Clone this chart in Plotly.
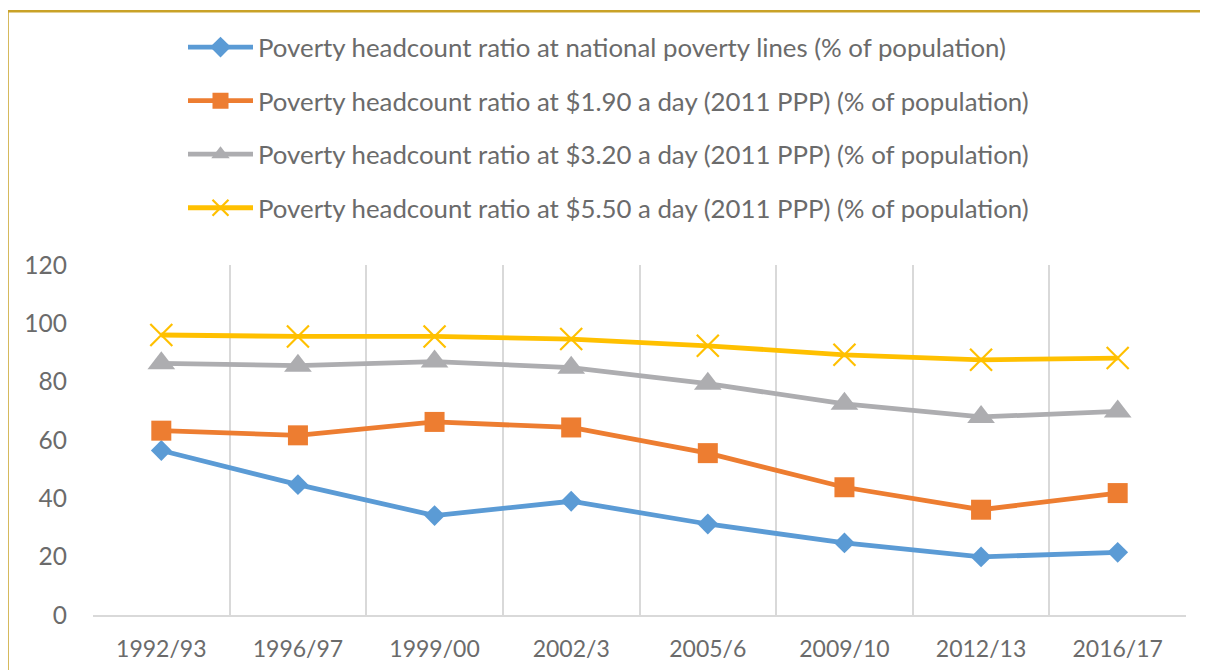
import plotly.graph_objects as go

years = ["1992/93", "1996/97", "1999/00", "2002/3", "2005/6", "2009/10", "2012/13", "2016/17"]

national = [56.4, 44.7, 34.1, 39.0, 31.2, 24.7, 19.9, 21.5]
ppp_190 = [63.2, 61.6, 66.2, 64.3, 55.5, 43.8, 36.1, 41.8]
ppp_320 = [86.3, 85.5, 86.9, 84.8, 79.3, 72.4, 67.9, 69.8]
ppp_550 = [96.0, 95.5, 95.5, 94.6, 92.3, 89.2, 87.5, 88.1]

names = [
    "Poverty headcount ratio at national poverty lines (% of population)",
    "Poverty headcount ratio at $1.90 a day (2011 PPP) (% of population)",
    "Poverty headcount ratio at $3.20 a day (2011 PPP) (% of population)",
    "Poverty headcount ratio at $5.50 a day (2011 PPP) (% of population)",
]

y_ticks = [0, 20, 40, 60, 80, 100, 120]

TEXT = "#6B6B6B"
FONT = "Lato"

series = [
    (national, "#5B9BD5", dict(symbol="diamond", size=16)),
    (ppp_190, "#ED7D31", dict(symbol="square", size=20)),
    (ppp_320, "#ADADB0", dict(symbol="triangle-up", size=24)),
    (ppp_550, "#FFC000", dict(symbol="x-thin", size=22, line=dict(width=2.2))),
]

fig = go.Figure()
for i, (vals, color, mk) in enumerate(series):
    marker = dict(color=color, **mk)
    if "line" in marker:
        marker["line"]["color"] = color
    fig.add_trace(go.Scatter(
        x=years, y=vals, name=names[i], mode="lines+markers",
        line=dict(color=color, width=4.8),
        marker=marker,
        legendgroup=f"g{i}",
    ))

# the page body adds an 8px offset; work in page pixel coordinates
OFF = 8
W, H = 1208 - OFF, 670 - OFF
PL, PR, PT, PB = 93, 1186, 265, 615.5  # plot area in page pixels
L, R, T, B = PL - OFF, W - (PR - OFF), PT - OFF, H - (PB - OFF)
pw, ph = W - L - R, H - T - B

def px_x(p):
    return (p - PL) / pw

def px_y(p):
    return (PB - p) / ph

fig.add_shape(
    type="rect", xref="paper", yref="paper",
    x0=px_x(7.5), x1=px_x(1230), y0=px_y(700), y1=px_y(11),
    line=dict(color="#C9A227", width=2.5), fillcolor="rgba(0,0,0,0)",
    layer="above",
)

fig.update_layout(
    width=W, height=H,
    margin=dict(l=L, r=R, t=T, b=B, pad=0),
    paper_bgcolor="white", plot_bgcolor="white",
    font=dict(family=FONT, color=TEXT, size=21),
    showlegend=True,
    legend=dict(
        x=px_x(183), y=px_y(23.5), xanchor="left", yanchor="top",
        orientation="v", font=dict(family=FONT, size=25.8, color=TEXT),
        tracegroupgap=17, itemwidth=65, bgcolor="rgba(0,0,0,0)",
    ),
    xaxis=dict(
        type="category", range=[-0.5, 7.5], automargin=False,
        showgrid=True, gridcolor="#D9D9D9", gridwidth=1.5,
        tickson="boundaries", ticks="", ticklen=0,
        showline=True, linecolor="#D9D9D9", linewidth=1.5,
        tickfont=dict(family=FONT, size=23, color=TEXT),
        ticklabelstandoff=13, zeroline=False,
    ),
    yaxis=dict(
        range=[0, 120], tickvals=y_ticks, showgrid=False, automargin=False,
        showline=False, zeroline=False, ticks="",
        tickfont=dict(family=FONT, size=24.5, color=TEXT),
        ticklabelstandoff=25,
    ),
)

fig.write_html("out.html")
